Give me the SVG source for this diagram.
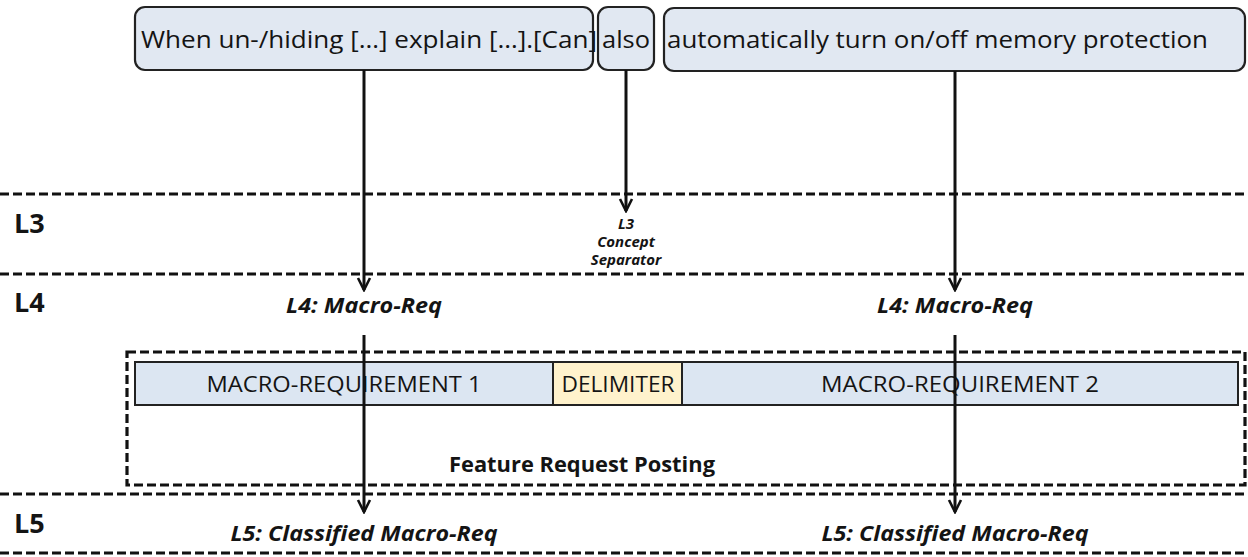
<svg xmlns="http://www.w3.org/2000/svg" width="1248" height="557" viewBox="0 0 1248 557">
  <defs>
    <marker id="arr" viewBox="0 0 16 16" refX="14" refY="8" markerWidth="16" markerHeight="16" markerUnits="userSpaceOnUse" orient="auto">
      <path d="M2,2 L14,8 L2,14" fill="none" stroke="#111" stroke-width="2.6" stroke-linejoin="miter"/>
    </marker>
    <style>
      .dash { stroke:#111; stroke-width:3.2; stroke-dasharray:9 4; fill:none; }
      .tbox { fill:#E1E8F2; stroke:#222; stroke-width:2.2; }
      .bar { stroke:#222; stroke-width:2; }
      .txt { font-family:"Open Sans","Noto Sans","Liberation Sans",sans-serif; fill:#141414; }
      .top { font-size:24px; }
      .lvl { font-size:27px; font-weight:bold; }
      .lab { font-size:21px; font-weight:bold; font-style:italic; text-anchor:middle; }
      .sep { font-size:15px; font-weight:bold; font-style:italic; text-anchor:middle; }
      .bt { font-size:22px; text-anchor:middle; }
      .conn { stroke:#111; stroke-width:3; fill:none; }
    </style>
  </defs>
  <rect width="1248" height="557" fill="#ffffff"/>

  <g id="layers">
    <line class="dash" x1="0" y1="194" x2="1248" y2="194"/>
    <line class="dash" x1="0" y1="274" x2="1248" y2="274"/>
    <line class="dash" x1="0" y1="494" x2="1248" y2="494"/>
    <line class="dash" x1="0" y1="553" x2="1248" y2="553"/>
    <text class="txt lvl" x="14" y="233">L3</text>
    <text class="txt lvl" x="14" y="312">L4</text>
    <text class="txt lvl" x="14" y="533">L5</text>
  </g>

  <g id="seg1">
    <rect class="tbox" x="135" y="7" width="458" height="63" rx="10"/>
    <text class="txt top" x="141" y="48" textLength="456" lengthAdjust="spacingAndGlyphs">When un-/hiding […] explain […].[Can]</text>
  </g>
  <g id="seg2">
    <rect class="tbox" x="598" y="7" width="56" height="63" rx="10"/>
    <text class="txt top" x="602" y="48" textLength="48" lengthAdjust="spacingAndGlyphs">also</text>
  </g>
  <g id="seg3">
    <rect class="tbox" x="664" y="8" width="581" height="63" rx="10"/>
    <text class="txt top" x="667" y="48" textLength="541" lengthAdjust="spacingAndGlyphs">automatically turn on/off memory protection</text>
  </g>

  <g id="sep-label">
    <text class="txt sep" x="626" y="229">L3</text>
    <text class="txt sep" x="626" y="247">Concept</text>
    <text class="txt sep" x="626" y="265">Separator</text>
  </g>

  <g id="l4-left">
    <text class="txt lab" x="364" y="313" textLength="156" lengthAdjust="spacingAndGlyphs">L4: Macro-Req</text>
  </g>
  <g id="l4-right">
    <text class="txt lab" x="955" y="313" textLength="156" lengthAdjust="spacingAndGlyphs">L4: Macro-Req</text>
  </g>

  <g id="posting">
    <rect class="dash" x="127" y="352" width="1118" height="133"/>
    <rect class="bar" x="135" y="362" width="418" height="43" fill="#DCE6F2"/>
    <rect class="bar" x="553" y="362" width="129" height="43" fill="#FFF2CC"/>
    <rect class="bar" x="682" y="362" width="556" height="43" fill="#DCE6F2"/>
    <text class="txt bt" x="344" y="392" textLength="275" lengthAdjust="spacingAndGlyphs">MACRO-REQUIREMENT 1</text>
    <text class="txt bt" x="618" y="392" textLength="113" lengthAdjust="spacingAndGlyphs">DELIMITER</text>
    <text class="txt bt" x="960" y="392" textLength="278" lengthAdjust="spacingAndGlyphs">MACRO-REQUIREMENT 2</text>
    <text class="txt" x="582" y="472" font-size="21" font-weight="bold" text-anchor="middle" textLength="266" lengthAdjust="spacingAndGlyphs">Feature Request Posting</text>
  </g>

  <g id="l5-left">
    <text class="txt lab" x="364" y="541" textLength="267" lengthAdjust="spacingAndGlyphs">L5: Classified Macro-Req</text>
  </g>
  <g id="l5-right">
    <text class="txt lab" x="955" y="541" textLength="267" lengthAdjust="spacingAndGlyphs">L5: Classified Macro-Req</text>
  </g>

  <g id="connectors">
    <line class="conn" x1="364" y1="70" x2="364" y2="290" marker-end="url(#arr)"/>
    <line class="conn" x1="626" y1="70" x2="626" y2="211" marker-end="url(#arr)"/>
    <line class="conn" x1="955" y1="71" x2="955" y2="290" marker-end="url(#arr)"/>
    <line class="conn" x1="364" y1="335" x2="364" y2="512" marker-end="url(#arr)"/>
    <line class="conn" x1="955" y1="335" x2="955" y2="512" marker-end="url(#arr)"/>
  </g>
</svg>
